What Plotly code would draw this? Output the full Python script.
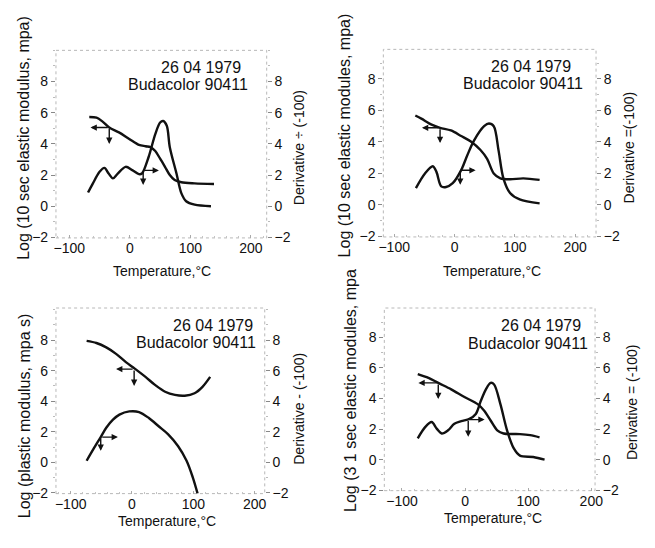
import plotly.graph_objects as go

# ---------------- data ----------------
# Panel 1: 10 s elastic modulus
p1_temp_mod = [-67, -55, -45, -34, -18, -1, 15, 26, 34, 42, 50, 58, 66, 74, 85, 107, 139]
p1_log_mod = [5.73, 5.68, 5.43, 5.05, 4.74, 4.32, 3.94, 3.85, 3.79, 3.54, 3.05, 2.53, 2.0, 1.68, 1.54, 1.47, 1.43]
p1_temp_der = [-69, -61, -50, -42, -35, -28, -20, -7, 4, 15, 20, 31, 42, 50, 55, 61, 66, 77, 85, 93, 107, 134]
p1_deriv = [0.88, 1.47, 2.21, 2.46, 2.1, 1.79, 2.1, 2.53, 2.32, 2.06, 2.1, 3.16, 4.63, 5.37, 5.47, 5.16, 3.79, 2.1, 0.84, 0.32, 0.1, 0.0]
p1_mod_mark = (-34, 5.05)
p1_der_mark = (22, 2.3)

# Panel 2: 10 s elastic modules
p2_temp_mod = [-65, -55, -38, -24, -6, 11, 27, 43, 54, 65, 76, 92, 114, 141]
p2_log_mod = [5.68, 5.48, 5.10, 4.90, 4.73, 4.38, 4.03, 3.49, 2.93, 2.0, 1.69, 1.63, 1.69, 1.59]
p2_temp_der = [-64, -49, -36, -30, -22, -14, -3, 11, 21, 32, 49, 57, 65, 73, 81, 92, 108, 141]
p2_deriv = [1.07, 2.0, 2.46, 2.1, 1.18, 1.14, 1.38, 2.21, 3.14, 4.07, 5.0, 5.17, 5.0, 3.45, 1.69, 0.76, 0.35, 0.10]
p2_mod_mark = (-24, 4.9)
p2_der_mark = (9.5, 2.2)

# Panel 3: plastic modulus
p3_temp_mod = [-74, -58, -42, -26, -10, 4.5, 22, 38, 54, 70, 86, 102, 115, 127.5]
p3_log_mod = [7.95, 7.81, 7.52, 7.10, 6.56, 6.13, 5.59, 5.05, 4.62, 4.41, 4.36, 4.52, 4.94, 5.59]
p3_temp_der = [-74, -63, -51, -42, -31, -20.5, -4.5, 11.5, 27.5, 43.5, 59, 75, 89, 99, 107]
p3_deriv = [0.1, 0.86, 1.65, 2.26, 2.79, 3.12, 3.33, 3.29, 2.9, 2.36, 1.83, 1.07, 0.1, -0.97, -2.05]
p3_mod_mark = (3.5, 6.1)
p3_der_mark = (-51, 1.65)

# Panel 4: 3 1 s elastic modules
p4_temp_mod = [-75, -58, -42.5, -22, -1, 20, 30, 40.5, 51, 61, 87, 103, 118]
p4_log_mod = [5.60, 5.35, 5.02, 4.6, 4.1, 3.63, 3.21, 2.56, 1.92, 1.71, 1.67, 1.6, 1.46]
p4_temp_der = [-75, -63, -53, -45, -37, -27, -17, -6, 7, 17, 25, 33, 40.5, 46, 56, 66.5, 77, 87, 108, 126]
p4_deriv = [1.39, 2.14, 2.46, 2.03, 1.71, 1.92, 2.35, 2.52, 2.67, 2.99, 3.85, 4.6, 5.02, 4.92, 3.63, 1.92, 0.75, 0.26, 0.17, 0.0]
p4_mod_mark = (-42.5, 5.02)
p4_der_mark = (5, 2.62)

x_ticks = [-100, 0, 100, 200]
y_ticks = [-2, 0, 2, 4, 6, 8]
x_title = "Temperature,°C"
left_titles = [
    "Log (10 sec elastic modulus, mpa)",
    "Log (10 sec elastic modules, mpa)",
    "Log (plastic modulus, mpa s)",
    "Log (3 1 sec elastic modules, mpa",
]
right_titles = ["Derivative ÷ (-100)", "Derivative =(-100)", "Derivative - (-100)", "Derivative = (-100)"]
date_label = "26 04 1979"
sample_label = "Budacolor 90411"

# ---------------- layout geometry (pixels) ----------------
W, H = 655, 548
FONT = "Liberation Sans"
INK = "#111111"

panels = [
    dict(box=(52, 267, 51, 241), xr=(-122, 226), yr=(-2.03, 10.0),
         mod=(p1_temp_mod, p1_log_mod), der=(p1_temp_der, p1_deriv),
         mmark=p1_mod_mark, dmark=p1_der_mark, arr=(-65, 4.0, 48, 1.37),
         xt=(160, 275), lt=(19, 140), rt=(300, 150), date=(243, 68), samp=(250, 86)),
    dict(box=(386, 603, 50, 240), xr=(-118, 234.5), yr=(-2.03, 9.88),
         mod=(p2_temp_mod, p2_log_mod), der=(p2_temp_der, p2_deriv),
         mmark=p2_mod_mark, dmark=p2_der_mark, arr=(-54, 3.93, 35, 1.28),
         xt=(497, 275), lt=(346, 137), rt=(637, 149), date=(580, 67), samp=(592, 85)),
    dict(box=(52, 265, 312, 500), xr=(-124, 216.5), yr=(-2.05, 10.1),
         mod=(p3_temp_mod, p3_log_mod), der=(p3_temp_der, p3_deriv),
         mmark=p3_mod_mark, dmark=p3_der_mark, arr=(-26, 5.0, -23, 0.75),
         xt=(165, 528), lt=(20, 421), rt=(300, 414), date=(255, 330), samp=(258, 347)),
    dict(box=(387, 602, 312, 497), xr=(-128, 206), yr=(-2.03, 9.92),
         mod=(p4_temp_mod, p4_log_mod), der=(p4_temp_der, p4_deriv),
         mmark=p4_mod_mark, dmark=p4_der_mark, arr=(-74, 3.96, 31, 1.5),
         xt=(498, 525), lt=(353, 395), rt=(640, 407), date=(590, 330), samp=(597, 348)),
]


def px(x):
    return x / W


def py(y):
    return 1 - y / H


fig = go.Figure()
annotations = []
shapes = []
line_style = dict(color=INK, width=2.4, shape="spline", smoothing=0.9)

for i, p in enumerate(panels):
    n = i + 1
    xa = f"x{n}" if n > 1 else "x"
    yl_idx = 2 * n - 1
    yr_idx = 2 * n
    yl = f"y{yl_idx}" if yl_idx > 1 else "y"
    yr = f"y{yr_idx}"

    fig.add_trace(go.Scatter(x=p["mod"][0], y=p["mod"][1], mode="lines", line=line_style,
                             xaxis=xa, yaxis=yl, showlegend=False, hoverinfo="skip"))
    fig.add_trace(go.Scatter(x=p["der"][0], y=p["der"][1], mode="lines", line=line_style,
                             xaxis=xa, yaxis=yr, showlegend=False, hoverinfo="skip"))

    x0, x1, y0, y1 = p["box"]
    xdom = [px(x0), px(x1)]
    ydom = [py(y1), py(y0)]
    tickfont = dict(family=FONT, size=14, color=INK)
    common_y = dict(range=list(p["yr"]), tickvals=y_ticks, showgrid=False, zeroline=False,
                    showline=False, ticks="outside", ticklen=4, tickwidth=1, tickcolor="#888",
                    tickfont=tickfont, domain=ydom,
                    minor=dict(ticks="outside", ticklen=2, dtick=1, tickcolor="#bbb"))
    fig.update_layout(**{
        f"xaxis{n}": dict(range=list(p["xr"]), tickvals=x_ticks, domain=xdom, anchor=yl,
                          showgrid=False, zeroline=False, showline=False,
                          ticks="inside", ticklen=3, tickcolor="#aaa", tickfont=tickfont,
                          minor=dict(ticks="inside", ticklen=2, dtick=20, tickcolor="#c4c4c4")),
        f"yaxis{yl_idx}": dict(anchor=xa, side="left", **common_y),
        f"yaxis{yr_idx}": dict(anchor=xa, side="right", overlaying=yl, **common_y),
    })

    # dotted frame
    shapes.append(dict(type="rect", xref=f"{xa} domain", yref=f"{yl} domain",
                       x0=0, x1=1, y0=0, y1=1, line=dict(color="#b8b8b8", width=1, dash="dot"),
                       layer="below"))

    # axis marker arrows: modulus -> left axis, derivative -> right axis
    mx, my = p["mmark"]
    dx, dy = p["dmark"]
    mleft, mdown, dright, ddown = p["arr"]
    arrow = dict(showarrow=True, arrowhead=2, arrowsize=0.9, arrowwidth=1.4,
                 arrowcolor=INK, text="", xref=xa, axref=xa)
    annotations += [
        dict(x=mleft, y=my, ax=mx, ay=my, yref=yl, ayref=yl, **arrow),
        dict(x=mx, y=mdown, ax=mx, ay=my, yref=yl, ayref=yl, **arrow),
        dict(x=dright, y=dy, ax=dx, ay=dy, yref=yr, ayref=yr, **arrow),
        dict(x=dx, y=ddown, ax=dx, ay=dy, yref=yr, ayref=yr, **arrow),
    ]

    # titles and labels
    tf = dict(family=FONT, size=14, color=INK)
    annotations += [
        dict(text=x_title, x=px(p["xt"][0]), y=py(p["xt"][1]), xref="paper", yref="paper",
             showarrow=False, font=tf, xanchor="center", yanchor="middle"),
        dict(text=left_titles[i], x=px(p["lt"][0]), y=py(p["lt"][1]), xref="paper", yref="paper",
             showarrow=False, font=dict(family=FONT, size=16, color=INK), textangle=-90,
             xanchor="center", yanchor="middle"),
        dict(text=right_titles[i], x=px(p["rt"][0]), y=py(p["rt"][1]), xref="paper", yref="paper",
             showarrow=False, font=tf, textangle=-90, xanchor="center", yanchor="middle"),
        dict(text=date_label, x=px(p["date"][0]), y=py(p["date"][1]), xref="paper", yref="paper",
             showarrow=False, font=dict(family=FONT, size=16, color=INK),
             xanchor="right", yanchor="middle"),
        dict(text=sample_label, x=px(p["samp"][0]), y=py(p["samp"][1]), xref="paper", yref="paper",
             showarrow=False, font=dict(family=FONT, size=16, color=INK),
             xanchor="right", yanchor="middle"),
    ]

fig.update_layout(
    width=W, height=H,
    margin=dict(l=0, r=0, t=0, b=0),
    paper_bgcolor="white", plot_bgcolor="white",
    annotations=annotations, shapes=shapes,
    showlegend=False,
)

fig.write_html("out.html")
